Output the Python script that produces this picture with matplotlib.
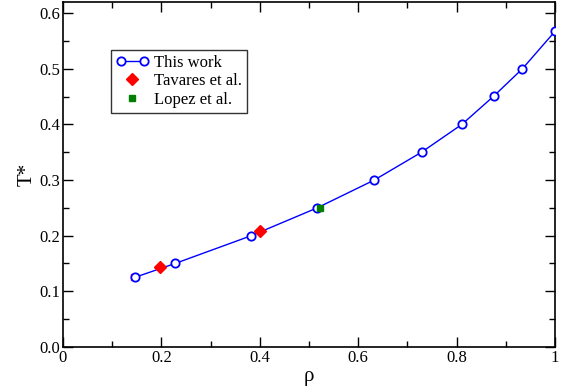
import matplotlib
matplotlib.use("Agg")
import matplotlib.pyplot as plt
from matplotlib.ticker import MultipleLocator, FormatStrFormatter
from matplotlib.legend_handler import HandlerLine2D

plt.rcParams['font.family'] = ['Liberation Serif', 'DejaVu Serif']

# data
rho_work = [0.146, 0.228, 0.383, 0.517, 0.633, 0.729, 0.811, 0.876, 0.934, 1.0]
T_work = [0.125, 0.150, 0.200, 0.250, 0.300, 0.350, 0.400, 0.451, 0.500, 0.567]

rho_tavares = [0.198, 0.400]
T_tavares = [0.144, 0.208]

rho_lopez = [0.523]
T_lopez = [0.250]

rho_extra = [0.145]
T_extra = [0.125]

fig = plt.figure(figsize=(5.7, 3.92), dpi=100)
ax = fig.add_axes([0.1105, 0.115, 0.863, 0.880])

ax.plot(rho_extra, T_extra, 's', color='magenta', markersize=4, zorder=2)
work, = ax.plot(rho_work, T_work, '-o', color='#0000ff', lw=1, markersize=6,
                markerfacecolor='white', markeredgewidth=1.3, label='This work', zorder=3)
tav, = ax.plot(rho_tavares, T_tavares, 'D', color='red', markersize=6, lw=0,
               label='Tavares et al.', zorder=4)
lop, = ax.plot(rho_lopez, T_lopez, 's', color='green', markersize=5, lw=0,
               label='Lopez et al.', zorder=4)

ax.set_xlim(0, 1)
ax.set_ylim(0, 0.62)
ax.xaxis.set_minor_locator(MultipleLocator(0.1))
ax.yaxis.set_major_locator(MultipleLocator(0.1))
ax.yaxis.set_minor_locator(MultipleLocator(0.05))
ax.set_xticks([0, 0.2, 0.4, 0.6, 0.8, 1.0])
ax.set_xticklabels(['0', '0.2', '0.4', '0.6', '0.8', '1'])
ax.yaxis.set_major_formatter(FormatStrFormatter('%.1f'))
ax.tick_params(which='both', direction='in', top=True, right=True, labelsize=12, width=1)
ax.tick_params(which='major', length=7)
ax.tick_params(which='minor', length=4)
ax.tick_params(axis='x', pad=2)
ax.tick_params(axis='y', pad=2)
for s in ax.spines.values():
    s.set_linewidth(1.2)

ax.set_xlabel('ρ', fontsize=15, labelpad=1)
ax.set_ylabel('T*', fontsize=15, labelpad=2)

leg = ax.legend(handles=[work, tav, lop], loc='upper left',
                bbox_to_anchor=(0.097, 0.862), numpoints=2,
                handler_map={tav: HandlerLine2D(numpoints=1),
                             lop: HandlerLine2D(numpoints=1)},
                fontsize=12, frameon=True, fancybox=False, borderpad=0.3,
                handlelength=2.0, handletextpad=0.3, labelspacing=0.15,
                borderaxespad=0)
leg.get_frame().set_edgecolor('black')
leg.get_frame().set_linewidth(1.0)

fig.savefig('out.png', dpi=100)
